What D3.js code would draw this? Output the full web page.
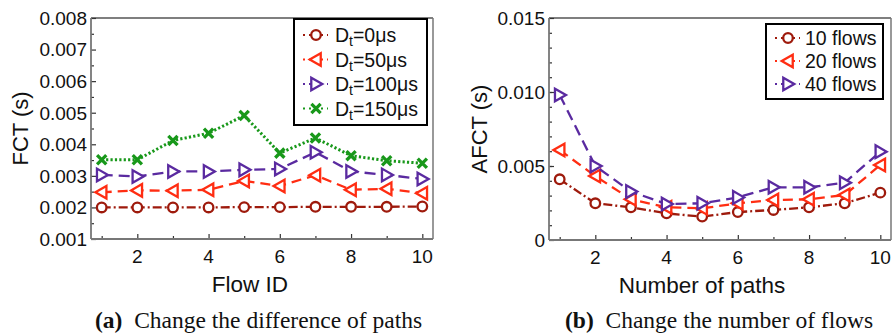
<!DOCTYPE html>
<html><head><meta charset="utf-8">
<script src="https://cdn.jsdelivr.net/npm/d3@7"></script>
<style>
html,body{margin:0;padding:0;background:#fff;}
svg{display:block;}
</style></head>
<body>
<svg id="chart" width="894" height="333"></svg>
<script>
// ---------- data ----------
const flowIds = [1,2,3,4,5,6,7,8,9,10];
const fctD0   = [0.00200,0.00200,0.00200,0.00200,0.00201,0.00201,0.00202,0.00202,0.00202,0.00203];
const fctD50  = [0.00248,0.00254,0.00253,0.00256,0.00284,0.00268,0.00302,0.00256,0.00259,0.00245];
const fctD100 = [0.00303,0.00298,0.00314,0.00314,0.00319,0.00322,0.00375,0.00314,0.00303,0.00290];
const fctD150 = [0.00351,0.00351,0.00412,0.00435,0.00491,0.00372,0.00420,0.00364,0.00348,0.00340];
const leftLegend = ["0μs","50μs","100μs","150μs"];
const leftYTicks = [0.001,0.002,0.003,0.004,0.005,0.006,0.007,0.008];

const numPaths = [1,2,3,4,5,6,7,8,9,10];
const afct10 = [0.00410,0.00248,0.00221,0.00180,0.00158,0.00189,0.00203,0.00221,0.00248,0.00320];
const afct20 = [0.00608,0.00432,0.00275,0.00221,0.00214,0.00248,0.00270,0.00275,0.00304,0.00507];
const afct40 = [0.00980,0.00500,0.00327,0.00243,0.00248,0.00288,0.00356,0.00356,0.00387,0.00597];
const rightLegend = ["10 flows","20 flows","40 flows"];
const rightYTicks = [0,0.005,0.010,0.015];
const xTicks = [2,4,6,8,10];

// ---------- styles ----------
const C_DRED = "#9e1a0c", C_RED = "#ff2d12", C_PURP = "#5a2aa0", C_GREEN = "#18981a";
const styles = {
  circle:{color:C_DRED, dash:"9,3,2,3", marker:"circle"},
  left:{color:C_RED, dash:"10,6", marker:"left"},
  right:{color:C_PURP, dash:"11,6", marker:"right"},
  cross:{color:C_GREEN, dash:"2.2,2.2", marker:"cross", width:3}
};

const svg = d3.select("#chart");
const FONT = "'Liberation Sans', Arial, Helvetica, sans-serif";

function drawMarker(g, type, x, y, color){
  if(type==="circle"){
    g.append("circle").attr("cx",x).attr("cy",y).attr("r",4.8)
      .attr("fill","#fff").attr("stroke",color).attr("stroke-width",2.3);
  } else if(type==="left"){
    const s=6.3;
    g.append("path").attr("d",`M${x-s},${y} L${x+s*0.75},${y-s} L${x+s*0.75},${y+s} Z`)
      .attr("fill","#fff").attr("stroke",color).attr("stroke-width",2.3).attr("stroke-linejoin","miter");
  } else if(type==="right"){
    const s=6.3;
    g.append("path").attr("d",`M${x+s},${y} L${x-s*0.75},${y-s} L${x-s*0.75},${y+s} Z`)
      .attr("fill","#fff").attr("stroke",color).attr("stroke-width",2.3).attr("stroke-linejoin","miter");
  } else if(type==="cross"){
    const s=4.6;
    g.append("path").attr("d",`M${x-s},${y-s} L${x+s},${y+s} M${x-s},${y+s} L${x+s},${y-s}`)
      .attr("stroke",color).attr("stroke-width",3.3).attr("fill","none");
  }
}

function panel(opt){
  const {left, top, right, bottom} = opt;
  const g = svg.append("g");
  const x = d3.scaleLinear().domain([0.7,10.3]).range([left,right]);
  const y = d3.scaleLinear().domain(opt.yDomain).range([bottom,top]);

  // frame
  g.append("line").attr("x1",left).attr("x2",right).attr("y1",top).attr("y2",top).attr("stroke","#000").attr("stroke-width",1.2);
  g.append("line").attr("x1",right).attr("x2",right).attr("y1",top).attr("y2",bottom).attr("stroke","#777").attr("stroke-width",1.5);

  // y axis (inward ticks)
  const ya = g.append("g").attr("transform",`translate(${left},0)`)
    .call(d3.axisRight(y).tickValues(opt.yMinor).tickSize(3).tickFormat(""));
  const yb = g.append("g").attr("transform",`translate(${left},0)`)
    .call(d3.axisRight(y).tickValues(opt.yTicks).tickSize(5).tickFormat(""));
  [ya,yb].forEach(a=>{a.select(".domain").remove(); a.selectAll("line").attr("stroke","#333").attr("stroke-width",1.2);});
  g.selectAll(null).data(opt.yTicks).enter().append("text")
    .attr("x",left-4).attr("y",d=>y(d)).attr("dy","0.36em").attr("text-anchor","end")
    .attr("font-family",FONT).attr("font-size",19).attr("fill","#111").text(opt.yFmt);

  // x axis (inward ticks)
  const xa = g.append("g").attr("transform",`translate(0,${bottom})`)
    .call(d3.axisTop(x).tickValues([1,3,5,7,9]).tickSize(3).tickFormat(""));
  const xb = g.append("g").attr("transform",`translate(0,${bottom})`)
    .call(d3.axisTop(x).tickValues(xTicks).tickSize(5).tickFormat(""));
  [xa,xb].forEach(a=>{a.select(".domain").remove(); a.selectAll("line").attr("stroke","#333").attr("stroke-width",1.2);});
  g.selectAll(null).data(xTicks).enter().append("text")
    .attr("x",d=>x(d)).attr("y",bottom+24).attr("text-anchor","middle")
    .attr("font-family",FONT).attr("font-size",19).attr("fill","#111").text(d=>d);

  g.append("line").attr("x1",left).attr("x2",left).attr("y1",top).attr("y2",bottom).attr("stroke","#777").attr("stroke-width",1.8);
  g.append("line").attr("x1",left).attr("x2",right).attr("y1",bottom).attr("y2",bottom).attr("stroke","#777").attr("stroke-width",1.8);

  // series
  opt.series.forEach(s=>{
    const st = styles[s.style];
    const line = d3.line().x((d,i)=>x(opt.xs[i])).y(d=>y(d));
    g.append("path").datum(s.values).attr("d",line).attr("fill","none")
      .attr("stroke",st.color).attr("stroke-width",st.width||2.3).attr("stroke-dasharray",st.dash);
    s.values.forEach((v,i)=>drawMarker(g,st.marker,x(opt.xs[i]),y(v),st.color));
  });

  // axis titles
  g.append("text").attr("x",opt.xTitleX).attr("y",bottom+53).attr("text-anchor","middle")
    .attr("font-family",FONT).attr("font-size",22.5).attr("fill","#111").text(opt.xTitle);
  g.append("text").attr("transform",`translate(${opt.yTitleX},${(top+bottom)/2}) rotate(-90)`)
    .attr("text-anchor","middle").attr("font-family",FONT).attr("font-size",22).attr("fill","#111").text(opt.yTitle);

  // legend
  const L = opt.legend;
  g.append("rect").attr("x",L.x).attr("y",L.y).attr("width",L.w).attr("height",L.h)
    .attr("fill","#fff").attr("stroke","#000").attr("stroke-width",2);
  opt.series.forEach((s,i)=>{
    const st = styles[s.style];
    const cy = L.y + L.first + i*L.step;
    g.append("line").attr("x1",L.x+9).attr("x2",L.x+34).attr("y1",cy).attr("y2",cy)
      .attr("stroke",st.color).attr("stroke-width",2.2).attr("stroke-dasharray","2,4");
    drawMarker(g,st.marker,L.x+22,cy,st.color);
    const t = g.append("text").attr("x",L.x+L.tx).attr("y",cy+7).attr("font-family",FONT)
      .attr("font-size",19.5).attr("fill","#111");
    if(s.sub){
      t.append("tspan").text("D");
      t.append("tspan").attr("font-size",14).attr("dy",4).text("t");
      t.append("tspan").attr("dy",-4).text("="+s.label);
    } else t.text(s.label);
  });

  // caption
  const cap = g.append("text").attr("x",opt.capX).attr("y",328)
    .attr("font-family","'Liberation Serif','Times New Roman',serif").attr("font-size",23.5).attr("fill","#111");
  cap.append("tspan").attr("font-weight","bold").text(opt.capLabel);
  cap.append("tspan").text("\u2002"+opt.caption);
}

panel({
  left:91, top:18, right:433, bottom:239,
  yDomain:[0.001,0.008], yTicks:leftYTicks,
  yMinor:d3.range(0.0015,0.008,0.001),
  yFmt:d=>d3.format(".3f")(d),
  xs:flowIds,
  series:[
    {style:"circle", values:fctD0, label:leftLegend[0], sub:true},
    {style:"left", values:fctD50, label:leftLegend[1], sub:true},
    {style:"right", values:fctD100, label:leftLegend[2], sub:true},
    {style:"cross", values:fctD150, label:leftLegend[3], sub:true}
  ],
  xTitle:"Flow ID", xTitleX:250, yTitle:"FCT (s)", yTitleX:28,
  legend:{x:294, y:19, w:133, h:106, first:16, step:24.5, tx:41},
  capX:95, capLabel:"(a)", caption:"Change the difference of paths"
});

panel({
  left:549, top:18, right:891, bottom:240,
  yDomain:[0,0.015], yTicks:rightYTicks,
  yMinor:d3.range(0.001,0.015,0.001),
  yFmt:d=>d===0?"0":d3.format(".3f")(d),
  xs:numPaths,
  series:[
    {style:"circle", values:afct10, label:rightLegend[0]},
    {style:"left", values:afct20, label:rightLegend[1]},
    {style:"right", values:afct40, label:rightLegend[2]}
  ],
  xTitle:"Number of paths", xTitleX:702, yTitle:"AFCT (s)", yTitleX:487,
  legend:{x:766, y:24, w:117, h:75, first:14, step:23, tx:39},
  capX:565, capLabel:"(b)", caption:"Change the number of flows"
});
</script>
</body></html>
